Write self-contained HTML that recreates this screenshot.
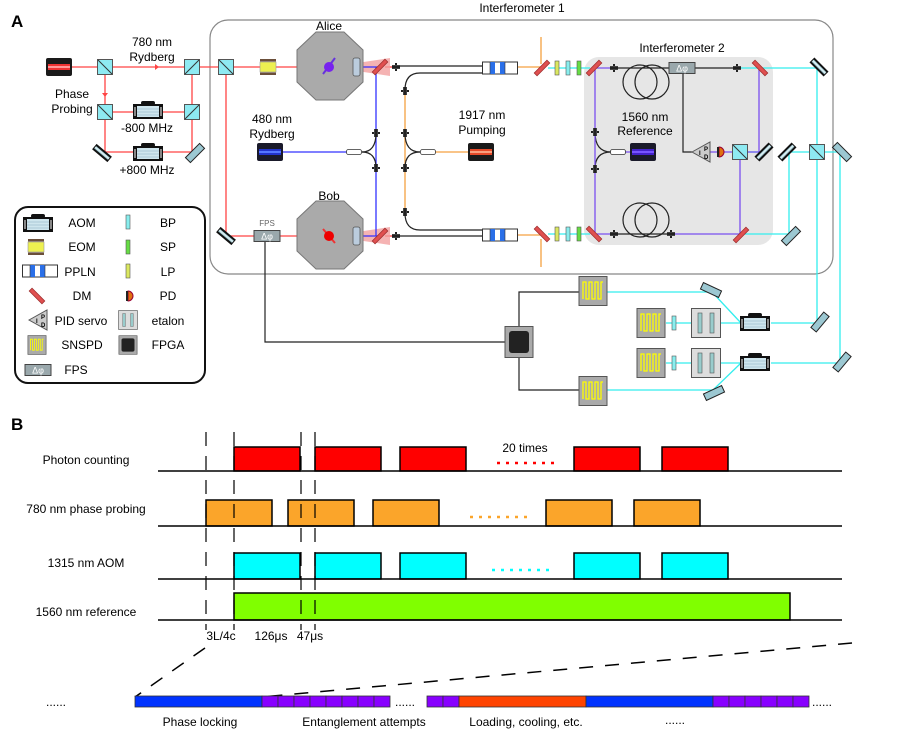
<!DOCTYPE html>
<html><head><meta charset="utf-8"><style>
body{margin:0;background:#fff}
svg{display:block;font-family:"Liberation Sans",Arial,sans-serif}
</style></head><body>
<svg width="897" height="735" viewBox="0 0 897 735" xmlns="http://www.w3.org/2000/svg">
<defs>
<linearGradient id="mg" x1="0" y1="0" x2="0" y2="1"><stop offset="0" stop-color="#9fd0dc"/><stop offset="0.5" stop-color="#e8f6f8"/><stop offset="1" stop-color="#7fb0bc"/></linearGradient>
<g id="bs"><rect x="-7.5" y="-7.5" width="15" height="15" fill="#8eeaf2" stroke="#555" stroke-width="1"/><line x1="-7" y1="-7" x2="7" y2="7" stroke="#333" stroke-width="1"/></g>
<g id="bs2"><rect x="-7.5" y="-7.5" width="15" height="15" fill="#8eeaf2" stroke="#555" stroke-width="1"/><line x1="-7" y1="7" x2="7" y2="-7" stroke="#333" stroke-width="1"/></g>
<g id="mir"><rect x="-10" y="-3.5" width="20" height="7" fill="#111"/><rect x="-9" y="-1.5" width="18" height="3" fill="url(#mg)"/></g>
<g id="mirl"><rect x="-10" y="-3.5" width="20" height="7" fill="#9cc8d2" stroke="#222" stroke-width="1"/></g>
<g id="dm"><rect x="-9" y="-2" width="18" height="4" fill="#e05050" stroke="#a03030" stroke-width="0.8"/></g>
<g id="laser"><rect x="-13" y="-9" width="26" height="18" rx="2" fill="#1a1a1a"/><rect x="-11" y="-3" width="22" height="6" fill="#e33"/><rect x="-11" y="-1" width="22" height="2" fill="#f99"/></g>
<g id="laserb"><rect x="-13" y="-9" width="26" height="18" rx="2" fill="#1a1a2a"/><rect x="-11" y="-3" width="22" height="6" fill="#2233cc"/><rect x="-11" y="-1" width="22" height="2" fill="#5577ff"/></g>
<g id="laserp"><rect x="-13" y="-9" width="26" height="18" rx="2" fill="#1a1a2a"/><rect x="-11" y="-3" width="22" height="6" fill="#4422cc"/><rect x="-11" y="-1" width="22" height="2" fill="#7755ff"/></g>
<g id="laserr"><rect x="-13" y="-9" width="26" height="18" rx="2" fill="#1a1a1a"/><rect x="-11" y="-3" width="22" height="6" fill="#e64a2a"/><rect x="-11" y="-1" width="22" height="2" fill="#f9a080"/></g>
<g id="aom"><rect x="-7" y="-10" width="14" height="4" rx="2" fill="#111"/><rect x="-15" y="-7" width="30" height="15" fill="#111"/><rect x="-11" y="-5" width="22" height="11" fill="#cfe6ee"/><line x1="-11" y1="-2" x2="11" y2="-2" stroke="#8ab" stroke-width="0.6"/><line x1="-11" y1="1" x2="11" y2="1" stroke="#8ab" stroke-width="0.6"/><line x1="-11" y1="4" x2="11" y2="4" stroke="#8ab" stroke-width="0.6"/><rect x="-14" y="-4" width="2" height="9" fill="#888"/><rect x="12" y="-4" width="2" height="9" fill="#888"/></g>
<g id="eom"><rect x="-8" y="-8" width="16" height="2.5" fill="#6b4f3a"/><rect x="-8" y="-5" width="16" height="10" fill="#eef050" stroke="#999" stroke-width="0.6"/><rect x="-8" y="5.5" width="16" height="2.5" fill="#6b4f3a"/></g>
<g id="ppln"><rect x="-17.5" y="-6" width="35" height="12" fill="#fff" stroke="#333" stroke-width="1"/><rect x="-10" y="-6" width="5" height="12" fill="#2a6fe8"/><rect x="0" y="-6" width="5" height="12" fill="#2a6fe8"/><line x1="-10" y1="-6" x2="-10" y2="6" stroke="#333" stroke-width="0.6"/><line x1="5" y1="-6" x2="5" y2="6" stroke="#333" stroke-width="0.6"/></g>
<g id="conn"><rect x="-1" y="-4" width="2" height="8" fill="#222"/><rect x="-4" y="-2" width="8" height="4" fill="#444"/><line x1="-4" y1="0" x2="4" y2="0" stroke="#000"/></g>
<g id="connv"><rect x="-4" y="-1" width="8" height="2" fill="#222"/><rect x="-2" y="-4" width="4" height="8" fill="#444"/><line x1="0" y1="-4" x2="0" y2="4" stroke="#000"/></g>
<g id="snspd"><rect x="-14" y="-14.5" width="28" height="29" fill="#aaa" stroke="#555" stroke-width="1"/><path d="M-10,8 V-9 H-7 V8 H-4 V-9 H-1 V8 H2 V-9 H5 V8 H8 V-9 H10" fill="none" stroke="#ff0" stroke-width="1.3"/></g>
<g id="etalon"><rect x="-14.5" y="-14.5" width="29" height="29" fill="#ddd" stroke="#555" stroke-width="1"/><rect x="-8" y="-10" width="4" height="20" fill="#9cc" stroke="#555" stroke-width="0.6"/><rect x="4" y="-10" width="4" height="20" fill="#9cc" stroke="#555" stroke-width="0.6"/></g>
<g id="fps"><rect x="-13" y="-5.5" width="26" height="11" fill="#9aa8ac" stroke="#444" stroke-width="1"/><text x="0" y="3.5" font-size="9" text-anchor="middle" fill="#fff">Δφ</text></g>
<g id="fpga"><rect x="-14" y="-15.5" width="28" height="31" fill="#aaa" stroke="#555" stroke-width="1"/><rect x="-10" y="-11" width="20" height="22" rx="3" fill="#222"/></g>
<g id="octa"><polygon points="-14,-34 14,-34 33,-16 33,16 14,34 -14,34 -33,16 -33,-16" fill="#aaa" stroke="#777" stroke-width="1"/></g>
<g id="fcoup"><rect x="-7.5" y="-2.5" width="15" height="5" rx="2" fill="#fff" stroke="#333" stroke-width="0.8"/></g>
<g id="pid"><polygon points="0,0 18,-10 18,10" fill="#ccc" stroke="#555" stroke-width="1"/><text x="12" y="-1" font-size="6" font-weight="bold">P</text><text x="7" y="3" font-size="6" font-weight="bold">I</text><text x="12" y="7" font-size="6" font-weight="bold">D</text></g>
<g id="pd"><path d="M0,-5 A5,5 0 0 1 0,5 Z" fill="#e07010" stroke="#903"/><rect x="-2" y="-5" width="2" height="10" fill="#222"/></g>
</defs>

<text x="11" y="27" font-size="17" font-weight="bold">A</text>
<text x="11" y="430" font-size="17" font-weight="bold">B</text>

<rect x="210" y="20" width="623" height="254" rx="18" fill="none" stroke="#888" stroke-width="1.2"/>
<text x="522" y="12" font-size="12" text-anchor="middle">Interferometer 1</text>
<rect x="584" y="57" width="189" height="188" rx="15" fill="#e6e6e6"/>
<text x="682" y="52" font-size="12" text-anchor="middle">Interferometer 2</text>

<g stroke="#f44" stroke-width="1.3" fill="none">
<line x1="72" y1="67" x2="372" y2="67"/>
<line x1="105" y1="67" x2="105" y2="152"/>
<line x1="192" y1="67" x2="192" y2="152"/>
<line x1="105" y1="112" x2="192" y2="112"/>
<line x1="105" y1="152" x2="192" y2="152"/>
<line x1="226" y1="67" x2="226" y2="236"/>
<line x1="226" y1="236" x2="372" y2="236"/>
<line x1="385" y1="67" x2="395" y2="67"/>
<line x1="385" y1="236" x2="395" y2="236"/>
</g>
<polygon points="155,64 159,67 155,70" fill="#f44"/>
<polygon points="102,93 105,97 108,93" fill="#f44"/>
<polygon points="330,67 390,58 390,76" fill="#f3a0a0" opacity="0.8"/>
<polygon points="330,236 390,227 390,245" fill="#f3a0a0" opacity="0.8"/>
<g stroke="#33f" stroke-width="1.3" fill="none">
<line x1="330" y1="67" x2="378" y2="67"/>
<line x1="330" y1="236" x2="378" y2="236"/>
<line x1="376" y1="67" x2="376" y2="236"/>
<line x1="283" y1="152" x2="347" y2="152"/>
</g>
<g stroke="#f5a040" stroke-width="1.3" fill="none">
<line x1="405" y1="90" x2="405" y2="213"/>
<line x1="435" y1="152" x2="469" y2="152"/>
<line x1="518" y1="67" x2="541" y2="67"/>
<line x1="518" y1="235" x2="541" y2="235"/>
<line x1="541" y1="37" x2="541" y2="64"/>
<line x1="541" y1="239" x2="541" y2="267"/>
</g>
<g stroke="#222" stroke-width="1.2" fill="none">
<line x1="396" y1="66" x2="483" y2="66"/>
<path d="M483,73 H420 Q405,73 405,90"/>
<line x1="396" y1="236" x2="483" y2="236"/>
<path d="M483,230 H420 Q405,230 405,213"/>
<path d="M362,152 Q376,152 376,133"/><path d="M362,152 Q376,152 376,168"/>
<path d="M420,152 Q405,152 405,133"/><path d="M420,152 Q405,152 405,168"/>
<path d="M611,152 Q595,152 595,132"/><path d="M611,152 Q595,152 595,169"/>
<line x1="613" y1="68" x2="738" y2="68"/>
<line x1="613" y1="234" x2="671" y2="234"/>
<circle cx="640" cy="82" r="17"/><circle cx="652" cy="82" r="17"/>
<circle cx="640" cy="220" r="17"/><circle cx="652" cy="220" r="17"/>
<path d="M683,73 V152 H692"/>
<path d="M265,241 V342 H505"/>
<path d="M519,327 V292 H579"/>
<path d="M519,358 V390 H579"/>
</g>
<g stroke="#3ee" stroke-width="1.3" fill="none">
<line x1="548" y1="68" x2="590" y2="68"/>
<line x1="548" y1="234" x2="590" y2="234"/>
<line x1="738" y1="68" x2="817" y2="68"/>
<line x1="817" y1="68" x2="817" y2="323"/>
<line x1="747" y1="152" x2="760" y2="152"/>
<line x1="786" y1="152" x2="840" y2="152"/>
<line x1="840" y1="152" x2="840" y2="362"/>
<line x1="789" y1="152" x2="789" y2="234"/>
<line x1="743" y1="234" x2="789" y2="234"/>
<line x1="607" y1="292" x2="712" y2="292"/>
<line x1="712" y1="292" x2="741" y2="323"/>
<line x1="607" y1="390" x2="713" y2="390"/>
<line x1="713" y1="390" x2="741" y2="363"/>
<line x1="666" y1="323" x2="741" y2="323"/>
<line x1="666" y1="363" x2="741" y2="363"/>
<line x1="771" y1="323" x2="817" y2="323"/>
<line x1="771" y1="363" x2="840" y2="363"/>
</g>
<g stroke="#7a4ff0" stroke-width="1.3" fill="none">
<line x1="595" y1="68" x2="595" y2="234"/>
<line x1="595" y1="68" x2="612" y2="68"/>
<line x1="595" y1="234" x2="612" y2="234"/>
<line x1="656" y1="152" x2="611" y2="152"/>
<line x1="759" y1="68" x2="759" y2="152"/>
<line x1="710" y1="152" x2="760" y2="152"/>
<line x1="740" y1="152" x2="740" y2="234"/>
<line x1="671" y1="234" x2="740" y2="234"/>
</g>

<use href="#laser" x="59" y="67"/>
<use href="#bs" x="105" y="67"/>
<use href="#bs2" x="192" y="67"/>
<use href="#bs" x="226" y="67"/>
<use href="#bs" x="105" y="112"/>
<use href="#bs2" x="192" y="112"/>
<use href="#aom" x="148" y="111"/>
<use href="#aom" x="148" y="153"/>
<use href="#mir" transform="translate(102,153) rotate(40)"/>
<use href="#mirl" transform="translate(195,153) rotate(-45)"/>
<use href="#mir" transform="translate(226,236) rotate(40)"/>
<use href="#eom" x="268" y="67"/>
<use href="#fps" x="267" y="236"/>
<text x="267" y="226" font-size="8" text-anchor="middle" fill="#666">FPS</text>
<use href="#octa" x="330" y="66"/>
<use href="#octa" x="330" y="235"/>
<rect x="353" y="58" width="7" height="18" rx="2" fill="#bcd" stroke="#555" stroke-width="0.8"/>
<rect x="353" y="227" width="7" height="18" rx="2" fill="#bcd" stroke="#555" stroke-width="0.8"/>
<line x1="323" y1="74" x2="335" y2="58" stroke="#6633dd" stroke-width="2"/>
<circle cx="329" cy="67" r="5" fill="#7722ee"/>
<line x1="323" y1="229" x2="335" y2="243" stroke="#e33" stroke-width="2"/>
<circle cx="329" cy="236" r="5" fill="#e00"/>
<use href="#dm" transform="translate(380,67) rotate(-45)"/>
<use href="#dm" transform="translate(380,236) rotate(-45)"/>
<use href="#conn" x="396" y="67"/>
<use href="#conn" x="396" y="236"/>
<use href="#connv" x="376" y="133"/><use href="#connv" x="376" y="168"/>
<use href="#connv" x="405" y="91"/><use href="#connv" x="405" y="133"/><use href="#connv" x="405" y="168"/><use href="#connv" x="405" y="212"/>
<use href="#fcoup" x="354" y="152"/>
<use href="#fcoup" x="428" y="152"/>
<use href="#laserb" x="270" y="152"/>
<use href="#laserr" x="481" y="152"/>
<use href="#ppln" x="500" y="68"/>
<use href="#ppln" x="500" y="235"/>
<use href="#dm" transform="translate(542,68) rotate(-45)"/>
<use href="#dm" transform="translate(542,234) rotate(45)"/>
<g stroke="#555" stroke-width="0.6">
<rect x="555" y="61" width="4" height="14" fill="#dbe860"/><rect x="566" y="61" width="4" height="14" fill="#8ee"/><rect x="577" y="61" width="4" height="14" fill="#6d4"/>
<rect x="555" y="227" width="4" height="14" fill="#dbe860"/><rect x="566" y="227" width="4" height="14" fill="#8ee"/><rect x="577" y="227" width="4" height="14" fill="#6d4"/>
</g>
<use href="#dm" transform="translate(594,68) rotate(-45)"/>
<use href="#dm" transform="translate(594,234) rotate(45)"/>
<use href="#conn" x="614" y="68"/><use href="#conn" x="737" y="68"/>
<use href="#conn" x="614" y="234"/><use href="#conn" x="671" y="234"/>
<use href="#connv" x="595" y="132"/><use href="#connv" x="595" y="169"/>
<use href="#fps" x="682" y="68"/>
<use href="#dm" transform="translate(760,68) rotate(45)"/>
<use href="#dm" transform="translate(741,235) rotate(-45)"/>
<use href="#fcoup" x="618" y="152"/>
<use href="#laserp" x="643" y="152"/>
<use href="#pid" x="692" y="152"/>
<use href="#pd" x="719" y="152"/>
<use href="#bs" x="740" y="152"/>
<use href="#mir" transform="translate(764,152) rotate(-45)"/>
<use href="#mir" transform="translate(787,152) rotate(-45)"/>
<use href="#bs" x="817" y="152"/>
<use href="#mirl" transform="translate(842,152) rotate(45)"/>
<use href="#mir" transform="translate(819,67) rotate(45)"/>
<use href="#mirl" transform="translate(791,236) rotate(-45)"/>
<use href="#mirl" transform="translate(820,322) rotate(-50)"/>
<use href="#mirl" transform="translate(842,362) rotate(-50)"/>
<use href="#mirl" transform="translate(711,290) rotate(25)"/>
<use href="#mirl" transform="translate(714,393) rotate(-25)"/>
<use href="#fpga" x="519" y="342"/>
<use href="#snspd" x="593" y="291"/>
<use href="#snspd" x="593" y="391"/>
<use href="#snspd" x="651" y="323"/>
<use href="#snspd" x="651" y="363"/>
<rect x="672" y="316" width="4" height="14" fill="#8ee" stroke="#555" stroke-width="0.6"/>
<rect x="672" y="356" width="4" height="14" fill="#8ee" stroke="#555" stroke-width="0.6"/>
<use href="#etalon" x="706" y="323"/>
<use href="#etalon" x="706" y="363"/>
<use href="#aom" x="755" y="323"/>
<use href="#aom" x="755" y="363"/>

<g font-size="12" text-anchor="middle">
<text x="152" y="46">780 nm</text><text x="152" y="61">Rydberg</text>
<text x="72" y="98">Phase</text><text x="72" y="113">Probing</text>
<text x="147" y="132">-800 MHz</text>
<text x="147" y="174">+800 MHz</text>
<text x="329" y="30">Alice</text>
<text x="329" y="200">Bob</text>
<text x="272" y="123">480 nm</text><text x="272" y="138">Rydberg</text>
<text x="482" y="119">1917 nm</text><text x="482" y="134">Pumping</text>
<text x="645" y="121">1560 nm</text><text x="645" y="135">Reference</text>
</g>

<!-- legend -->
<rect x="15" y="207" width="190" height="176" rx="13" fill="#fff" stroke="#111" stroke-width="2"/>
<use href="#aom" x="38" y="224"/>
<use href="#eom" x="36" y="247"/>
<use href="#ppln" x="40" y="271"/>
<use href="#dm" transform="translate(37,296) rotate(45)"/>
<use href="#pid" x="29" y="320"/>
<use href="#snspd" transform="translate(37,345) scale(0.65)"/>
<use href="#fps" x="38" y="370"/>
<rect x="126" y="215" width="4" height="14" fill="#8ee" stroke="#555" stroke-width="0.6"/>
<rect x="126" y="240" width="4" height="14" fill="#6d4" stroke="#555" stroke-width="0.6"/>
<rect x="126" y="264" width="4" height="14" fill="#dbe860" stroke="#555" stroke-width="0.6"/>
<use href="#pd" x="128" y="296"/>
<use href="#etalon" transform="translate(128,320) scale(0.65)"/>
<use href="#fpga" transform="translate(128,345) scale(0.65,0.6)"/>
<g font-size="12" text-anchor="middle">
<text x="82" y="227">AOM</text><text x="82" y="251">EOM</text><text x="80" y="276">PPLN</text><text x="82" y="300">DM</text>
<text x="81" y="325">PID servo</text><text x="82" y="349">SNSPD</text><text x="76" y="374">FPS</text>
<text x="168" y="227">BP</text><text x="168" y="251">SP</text><text x="168" y="276">LP</text><text x="168" y="300">PD</text>
<text x="168" y="325">etalon</text><text x="168" y="349">FPGA</text>
</g>

<!-- Panel B -->
<g stroke="#000" stroke-width="1.5">
<rect x="234" y="447" width="66" height="24" fill="#f00"/>
<rect x="315" y="447" width="66" height="24" fill="#f00"/>
<rect x="400" y="447" width="66" height="24" fill="#f00"/>
<rect x="574" y="447" width="66" height="24" fill="#f00"/>
<rect x="662" y="447" width="66" height="24" fill="#f00"/>
<rect x="206" y="500" width="66" height="26" fill="#fba52a"/>
<rect x="288" y="500" width="66" height="26" fill="#fba52a"/>
<rect x="373" y="500" width="66" height="26" fill="#fba52a"/>
<rect x="546" y="500" width="66" height="26" fill="#fba52a"/>
<rect x="634" y="500" width="66" height="26" fill="#fba52a"/>
<rect x="234" y="553" width="66" height="26" fill="#0ff"/>
<rect x="315" y="553" width="66" height="26" fill="#0ff"/>
<rect x="400" y="553" width="66" height="26" fill="#0ff"/>
<rect x="574" y="553" width="66" height="26" fill="#0ff"/>
<rect x="662" y="553" width="66" height="26" fill="#0ff"/>
<rect x="234" y="593" width="556" height="27" fill="#80ff00"/>
<line x1="158" y1="471" x2="842" y2="471"/>
<line x1="158" y1="526" x2="842" y2="526"/>
<line x1="158" y1="579" x2="842" y2="579"/>
<line x1="158" y1="620" x2="842" y2="620"/>
</g>
<g stroke="#000" stroke-width="1.2" stroke-dasharray="14,10">
<line x1="206" y1="432" x2="206" y2="630"/>
<line x1="234" y1="432" x2="234" y2="630"/>
<line x1="301" y1="432" x2="301" y2="630"/>
<line x1="315" y1="432" x2="315" y2="630"/>
</g>
<g stroke-width="2.5" stroke-dasharray="3,6" fill="none">
<line x1="497" y1="463" x2="555" y2="463" stroke="#f00"/>
<line x1="470" y1="517" x2="528" y2="517" stroke="#fba52a"/>
<line x1="492" y1="570" x2="550" y2="570" stroke="#0ff"/>
</g>
<g font-size="12" text-anchor="middle">
<text x="86" y="464">Photon counting</text>
<text x="86" y="513">780 nm phase probing</text>
<text x="86" y="567">1315 nm AOM</text>
<text x="86" y="616">1560 nm reference</text>
<text x="525" y="452">20 times</text>
<text x="221" y="640">3L/4c</text>
<text x="271" y="640">126μs</text>
<text x="310" y="640">47μs</text>
</g>
<g stroke="#000" stroke-width="1.5" stroke-dasharray="14,12">
<line x1="205" y1="648" x2="135" y2="697"/>
<line x1="852" y1="643" x2="262" y2="697"/>
</g>
<g stroke="#333" stroke-width="0.8">
<rect x="135" y="696" width="127" height="11" fill="#0033ff"/>
<rect x="262" y="696" width="16" height="11" fill="#8800ff"/><rect x="278" y="696" width="16" height="11" fill="#8800ff"/><rect x="294" y="696" width="16" height="11" fill="#8800ff"/><rect x="310" y="696" width="16" height="11" fill="#8800ff"/><rect x="326" y="696" width="16" height="11" fill="#8800ff"/><rect x="342" y="696" width="16" height="11" fill="#8800ff"/><rect x="358" y="696" width="16" height="11" fill="#8800ff"/><rect x="374" y="696" width="16" height="11" fill="#8800ff"/>
<rect x="427" y="696" width="16" height="11" fill="#8800ff"/><rect x="443" y="696" width="16" height="11" fill="#8800ff"/>
<rect x="459" y="696" width="127" height="11" fill="#ff4400"/>
<rect x="586" y="696" width="127" height="11" fill="#0033ff"/>
<rect x="713" y="696" width="16" height="11" fill="#8800ff"/><rect x="729" y="696" width="16" height="11" fill="#8800ff"/><rect x="745" y="696" width="16" height="11" fill="#8800ff"/><rect x="761" y="696" width="16" height="11" fill="#8800ff"/><rect x="777" y="696" width="16" height="11" fill="#8800ff"/><rect x="793" y="696" width="16" height="11" fill="#8800ff"/>
</g>
<g font-size="12">
<text x="46" y="706">......</text>
<text x="395" y="706">......</text>
<text x="812" y="706">......</text>
<text x="665" y="724">......</text>
<text x="200" y="726" text-anchor="middle">Phase locking</text>
<text x="364" y="726" text-anchor="middle">Entanglement attempts</text>
<text x="526" y="726" text-anchor="middle">Loading, cooling, etc.</text>
</g>
</svg>
</body></html>
